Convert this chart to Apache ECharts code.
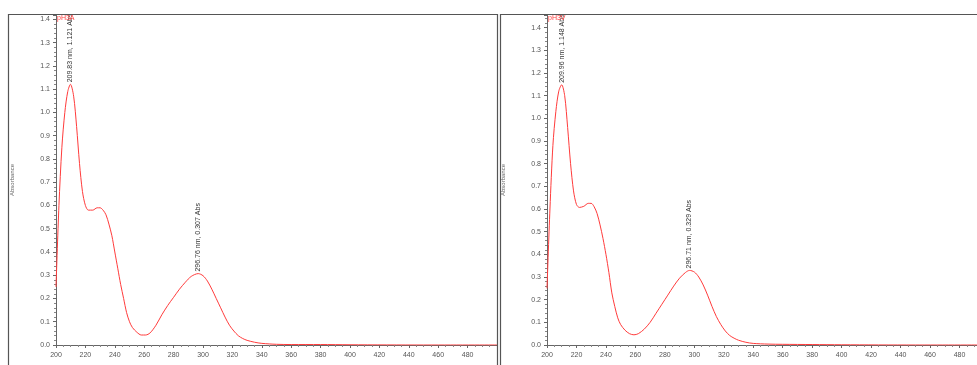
<!DOCTYPE html>
<html>
<head>
<meta charset="utf-8">
<script src="https://cdn.jsdelivr.net/npm/echarts@6/dist/echarts.min.js"></script>
<style>
  html, body { margin: 0; padding: 0; background: #fff; }
  #chart { width: 977px; height: 365px; }
</style>
</head>
<body>
<div id="chart"></div>
<script>
// spectrum A (left panel)
const nmA = [200, 202, 204, 206, 208, 209.83, 212, 214, 216, 218, 220, 222, 225, 228, 230, 232, 234, 236, 238, 240,
  242, 244, 246, 248, 250, 252, 255, 258, 261, 264, 268, 272, 276, 280, 284, 288, 292, 296.76, 300, 303, 306, 309,
  312, 315, 318, 321, 324, 327, 330, 335, 340, 350, 360, 380, 400, 450, 500];
const absA = [0.25, 0.6, 0.85, 1.0, 1.09, 1.121, 1.07, 0.94, 0.78, 0.66, 0.6, 0.58, 0.58, 0.59, 0.59, 0.58, 0.56, 0.52, 0.47, 0.4,
  0.33, 0.26, 0.2, 0.14, 0.1, 0.075, 0.055, 0.043, 0.043, 0.052, 0.085, 0.13, 0.17, 0.205, 0.24, 0.27, 0.295, 0.307, 0.298, 0.275, 0.24, 0.2,
  0.16, 0.12, 0.085, 0.06, 0.04, 0.028, 0.02, 0.012, 0.007, 0.003, 0.002, 0.002, 0.001, 0, 0];

// spectrum B (right panel)
const nmB = [200, 202, 204, 206, 208, 209.96, 212, 214, 216, 218, 220, 222, 225, 228, 230, 232, 234, 236, 238, 240,
  242, 244, 246, 248, 250, 253, 256, 259, 262, 266, 270, 274, 278, 282, 286, 290, 294, 296.71, 300, 303, 306, 309,
  312, 315, 318, 321, 324, 327, 330, 335, 340, 350, 360, 380, 400, 450, 500];
const absB = [0.25, 0.6, 0.88, 1.03, 1.12, 1.148, 1.1, 0.96, 0.8, 0.68, 0.62, 0.607, 0.612, 0.625, 0.625, 0.61, 0.58, 0.53, 0.47, 0.4,
  0.32, 0.23, 0.17, 0.12, 0.09, 0.065, 0.05, 0.045, 0.05, 0.07, 0.1, 0.14, 0.18, 0.22, 0.26, 0.295, 0.32, 0.329, 0.322, 0.3, 0.265, 0.22,
  0.17, 0.125, 0.09, 0.062, 0.042, 0.03, 0.021, 0.012, 0.007, 0.004, 0.003, 0.002, 0.001, 0, 0];

const names = ['pH3A', 'pH3V'];
const peaksA = [[209.83, 1.121], [296.76, 0.307]];
const peaksB = [[209.96, 1.148], [296.71, 0.329]];

const chart = echarts.init(document.getElementById('chart'));
const font = 'Liberation Sans, Arial, sans-serif';

function xAxisFor(i) {
  return {
    type: 'value', gridIndex: i, min: 200, max: 500, interval: 20,
    offset: 3,
    name: 'Wavelength (nm)', nameLocation: 'middle', nameGap: 13,
    nameTextStyle: { fontSize: 6, color: '#666', fontFamily: font },
    axisLine: { show: true, lineStyle: { color: '#666', width: 1 } },
    axisTick: { show: true, length: 3, lineStyle: { color: '#666' } },
    minorTick: { show: true, splitNumber: 4, length: 2, lineStyle: { color: '#888' } },
    axisLabel: { fontSize: 7, color: '#555', margin: 4, fontFamily: font, showMaxLabel: false },
    splitLine: { show: false }
  };
}
function yAxisFor(i, max) {
  return {
    type: 'value', gridIndex: i, min: 0, max: max, interval: 0.1,
    name: 'Absorbance', nameLocation: 'middle', nameGap: 41,
    nameTextStyle: { fontSize: 6, color: '#666', fontFamily: font },
    axisLine: { show: true, lineStyle: { color: '#666', width: 1 } },
    axisTick: { show: true, length: 3, lineStyle: { color: '#666' } },
    minorTick: { show: true, splitNumber: 5, length: 2, lineStyle: { color: '#888' } },
    axisLabel: {
      fontSize: 7, color: '#555', margin: 6, fontFamily: font, showMaxLabel: false,
      formatter: v => v.toFixed(1)
    },
    splitLine: { show: false }
  };
}
function spectrum(i, nm, abs, peaks) {
  return {
    type: 'line', xAxisIndex: i, yAxisIndex: i, name: names[i],
    data: nm.map((x, k) => [x, abs[k]]),
    smooth: 0.3, symbol: 'none',
    lineStyle: { color: '#ff3b3b', width: 1 },
    clip: true,
    markPoint: {
      symbol: 'circle', symbolSize: 0,
      data: peaks.map(p => ({
        coord: p,
        label: {
          show: true, rotate: 90, position: [0, -2], align: 'left', verticalAlign: 'middle',
          fontSize: 7, color: '#333', fontFamily: font,
          formatter: p[0].toFixed(2) + ' nm, ' + p[1].toFixed(3) + ' Abs'
        }
      }))
    }
  };
}

chart.setOption({
  animation: false,
  backgroundColor: '#fff',
  grid: [
    { left: 56, top: 15, width: 441, height: 330, outerBoundsMode: 'none', containLabel: false },
    { left: 547, top: 15, width: 442, height: 330, outerBoundsMode: 'none', containLabel: false }
  ],
  xAxis: [xAxisFor(0), xAxisFor(1)],
  yAxis: [yAxisFor(0, 1.419), yAxisFor(1, 1.456)],
  series: [spectrum(0, nmA, absA, peaksA), spectrum(1, nmB, absB, peaksB)],
  graphic: [
    { type: 'rect', shape: { x: 8.5, y: 14.5, width: 489, height: 360 }, style: { fill: 'none', stroke: '#555', lineWidth: 1.2 }, z: 10 },
    { type: 'rect', shape: { x: 500.5, y: 14.5, width: 490, height: 360 }, style: { fill: 'none', stroke: '#555', lineWidth: 1.2 }, z: 10 },
    { type: 'text', left: 57, top: 15, style: { text: names[0], fill: '#ff3b3b', fontSize: 7, fontFamily: font }, z: 11 },
    { type: 'text', left: 548, top: 15, style: { text: names[1], fill: '#ff3b3b', fontSize: 7, fontFamily: font }, z: 11 }
  ]
});
</script>
</body>
</html>
